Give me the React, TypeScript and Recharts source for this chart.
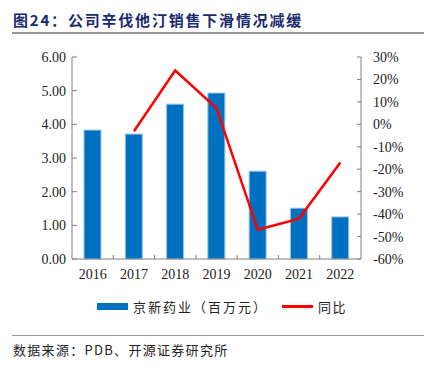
import React from 'react';
import { ComposedChart, Bar, Line, XAxis, YAxis } from 'recharts';

const years = ['2016', '2017', '2018', '2019', '2020', '2021', '2022'];
const sales = [3.83, 3.71, 4.6, 4.93, 2.61, 1.51, 1.25];
const yoy: (number | null)[] = [null, -3.1, 24, 7.2, -47, -42, -17];
const leftTicks = [0, 1, 2, 3, 4, 5, 6];
const rightTicks = [-60, -50, -40, -30, -20, -10, 0, 10, 20, 30];

const data = years.map((y, i) => ({ year: y, sales: sales[i], yoy: yoy[i] }));

const W = 427;
const LEFT_W = 72;
const RIGHT_W = 66;
const PLOT_W = W - LEFT_W - RIGHT_W;
const HALF_BAND = PLOT_W / years.length / 2;
const AXIS_COLOR = '#808080';
const FONT = '"Liberation Serif", "Times New Roman", serif';
const CJK = '"Noto Sans CJK SC", sans-serif';

const LeftTick = (props: any) => {
  const { x, y, payload } = props;
  return (
    <g>
      <line x1={x} x2={x + 5} y1={y} y2={y} stroke={AXIS_COLOR} />
      <text x={x - 6} y={y} dy={5} textAnchor="end" fontSize={14} fontFamily={FONT} fill="#222">
        {Number(payload.value).toFixed(2)}
      </text>
    </g>
  );
};

const RightTick = (props: any) => {
  const { x, y, payload } = props;
  return (
    <g>
      <line x1={x} x2={x - 4} y1={y} y2={y} stroke={AXIS_COLOR} />
      <text x={x + 12} y={y} dy={5} textAnchor="start" fontSize={14} fontFamily={FONT} fill="#222">
        {payload.value + '%'}
      </text>
    </g>
  );
};

const XTick = (props: any) => {
  const { x, y, payload, index } = props;
  return (
    <g>
      {index > 0 && (
        <line x1={x - HALF_BAND} x2={x - HALF_BAND} y1={y} y2={y - 4} stroke={AXIS_COLOR} />
      )}
      <text x={x} y={y} dy={20} textAnchor="middle" fontSize={14} fontFamily={FONT} fill="#222">
        {payload.value}
      </text>
    </g>
  );
};

export default function App() {
  return (
    <div style={{ position: 'absolute', left: 0, top: 0, width: W, height: 367, background: '#fff' }}>
      <div
        style={{
          position: 'absolute',
          left: 13,
          top: 10,
          fontFamily: CJK,
          fontWeight: 700,
          fontSize: 15,
          letterSpacing: 1.8,
          color: '#1b2a6e',
          lineHeight: '20px',
          whiteSpace: 'nowrap',
        }}
      >
        图24：公司辛伐他汀销售下滑情况减缓
      </div>
      <div style={{ position: 'absolute', left: 12, top: 32, width: 412, height: 2, background: '#999' }} />
      <div style={{ position: 'absolute', left: 0, top: 0 }}>
        <ComposedChart width={W} height={290} data={data} margin={{ top: 57, right: 0, left: 0, bottom: 0 }}>
          <XAxis
            dataKey="year"
            tick={<XTick />}
            tickLine={false}
            tickSize={0}
            tickMargin={0}
            axisLine={{ stroke: AXIS_COLOR }}
            height={31}
            interval={0}
          />
          <YAxis
            yAxisId="left"
            orientation="left"
            domain={[0, 6]}
            ticks={leftTicks}
            width={LEFT_W}
            tick={<LeftTick />}
            tickLine={false}
            tickSize={0}
            tickMargin={0}
            axisLine={{ stroke: AXIS_COLOR }}
            interval={0}
          />
          <YAxis
            yAxisId="right"
            orientation="right"
            domain={[-60, 30]}
            ticks={rightTicks}
            width={RIGHT_W}
            tick={<RightTick />}
            tickLine={false}
            tickSize={0}
            tickMargin={0}
            axisLine={{ stroke: AXIS_COLOR }}
            interval={0}
          />
          <Bar
            yAxisId="left"
            dataKey="sales"
            barSize={17}
            fill="#0070C0"
            stroke="#9DC3E6"
            strokeWidth={1}
            isAnimationActive={false}
          />
          <Line
            yAxisId="right"
            dataKey="yoy"
            stroke="#FF0000"
            strokeWidth={2.5}
            dot={false}
            activeDot={false}
            connectNulls={false}
            isAnimationActive={false}
          />
        </ComposedChart>
      </div>
      <div style={{ position: 'absolute', left: 97, top: 303, width: 31, height: 7, background: '#0070C0' }} />
      <div
        style={{
          position: 'absolute',
          left: 133,
          top: 297,
          fontFamily: CJK,
          fontSize: 13,
          letterSpacing: 2,
          lineHeight: '20px',
          color: '#222',
          whiteSpace: 'nowrap',
        }}
      >
        京新药业（百万元）
      </div>
      <div style={{ position: 'absolute', left: 282, top: 305, width: 31, height: 2.5, background: '#FF0000' }} />
      <div
        style={{
          position: 'absolute',
          left: 318,
          top: 297,
          fontFamily: CJK,
          fontSize: 13,
          letterSpacing: 1.5,
          lineHeight: '20px',
          color: '#222',
          whiteSpace: 'nowrap',
        }}
      >
        同比
      </div>
      <div style={{ position: 'absolute', left: 12, top: 335, width: 412, height: 1, background: '#999' }} />
      <div
        style={{
          position: 'absolute',
          left: 13,
          top: 340,
          fontFamily: CJK,
          fontSize: 13,
          letterSpacing: 1.3,
          lineHeight: '20px',
          color: '#222',
          whiteSpace: 'nowrap',
        }}
      >
        数据来源：PDB、开源证券研究所
      </div>
    </div>
  );
}
